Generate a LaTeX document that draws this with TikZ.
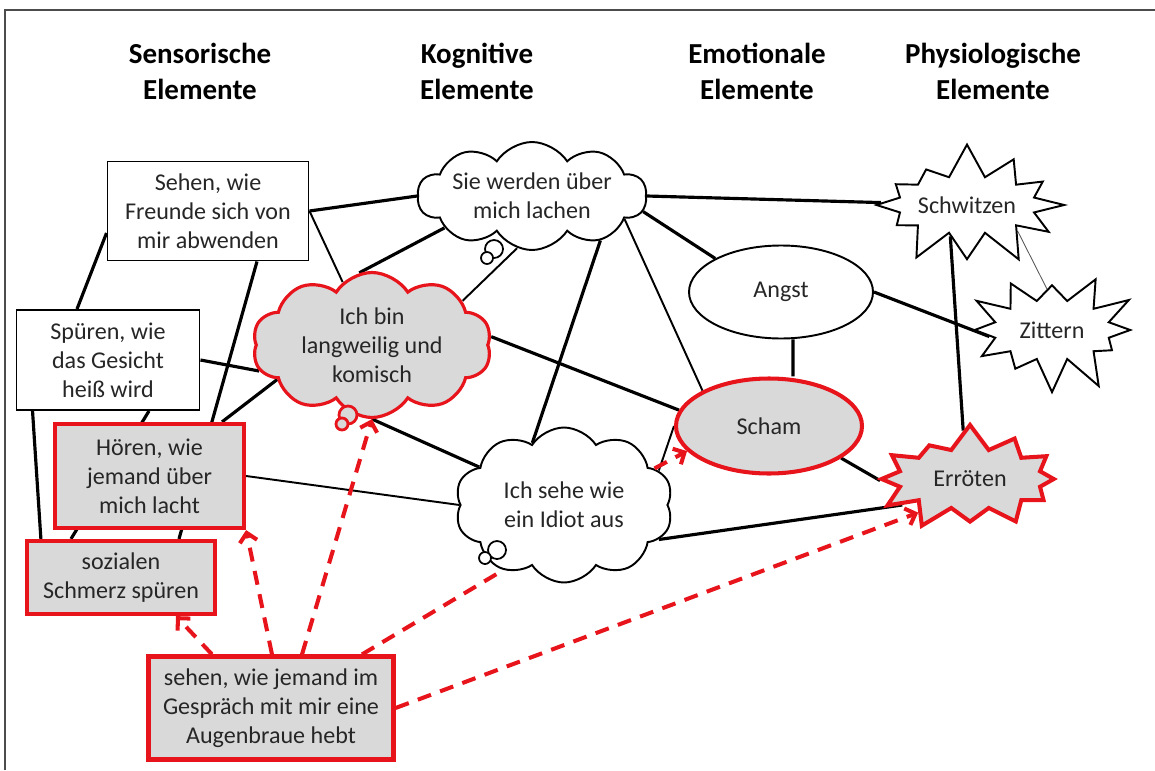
\documentclass[tikz,border=0pt]{standalone}
\usepackage{fontspec}
\setmainfont{Carlito}
\usetikzlibrary{arrows.meta, shapes.geometric, shapes.symbols, backgrounds}
\definecolor{hot}{HTML}{E8141C}
\definecolor{shade}{HTML}{D9D9D9}
\definecolor{ink}{HTML}{262626}
\newcommand{\bodyfont}{\fontsize{13.7}{16.5}\selectfont}
\newcommand{\headfont}{\fontsize{16.5}{20.5}\selectfont\bfseries}

\begin{document}
\begin{tikzpicture}[
  head/.style={font=\headfont, align=center, text=black},
  sbox/.style={rectangle, draw, line width=1.1pt, fill=white, align=center,
               font=\bodyfont, text=ink, inner sep=1pt},
  hotbox/.style={sbox, draw=hot, line width=2.4pt, fill=shade},
  thought/.style={cloud, cloud puffs=10, cloud puff arc=115, cloud ignores aspect,
                  draw, line width=1.1pt, fill=white, align=center,
                  font=\bodyfont, text=ink, inner sep=0pt},
  hotthought/.style={thought, draw=hot, line width=1.8pt, fill=shade},
  bubble/.style={circle, draw, line width=1pt, fill=white, inner sep=0pt},
  hotbubble/.style={bubble, draw=hot, line width=1.6pt, fill=shade},
  mood/.style={ellipse, draw, line width=1.1pt, fill=white, font=\bodyfont,
               text=ink, inner sep=0pt},
  hotmood/.style={mood, draw=hot, line width=2.3pt, fill=shade},
  burst/.style={starburst, starburst points=12, starburst point height=0.7cm,
                draw, line width=1.1pt, fill=white, font=\bodyfont, text=ink,
                inner sep=0pt},
  hotburst/.style={burst, draw=hot, line width=2.3pt, fill=shade},
  link/.style={line width=1.8pt},
  thinlink/.style={line width=1.1pt},
  trigger/.style={hot, line width=2.3pt, dash pattern=on 8pt off 5.5pt},
  tip/.style={-{Straight Barb[length=5pt, width=10pt]}},
]
\useasboundingbox (0,0) rectangle (23.1,15.4);
\draw[line width=0.85pt, gray!60!black] (0.1,0) -- (0.1,15.2) -- (23.1,15.2);

% column heads
\node[head] (hsens) at (4.00, 13.98) {Sensorische\\Elemente};
\node[head] (hkog)  at (9.54, 13.98) {Kognitive\\Elemente};
\node[head] (hemo)  at (15.14, 13.98) {Emotionale\\Elemente};
\node[head] (hphys) at (19.86, 13.98) {Physiologische\\Elemente};

% sensory elements
\node[sbox, minimum width=4.02cm, minimum height=1.98cm] (sehenFr) at (4.16, 11.18)
  {Sehen, wie\\Freunde sich von\\mir abwenden};
\node[sbox, minimum width=3.66cm, minimum height=2.00cm] (spueren) at (2.16, 8.20)
  {Spüren, wie\\das Gesicht\\heiß wird};
\node[hotbox, minimum width=3.78cm, minimum height=2.08cm] (hoeren) at (2.99, 5.88)
  {Hören, wie\\jemand über\\mich lacht};
\node[hotbox, minimum width=3.76cm, minimum height=1.46cm] (sozial) at (2.42, 3.85)
  {sozialen\\Schmerz spüren};
\node[hotbox, minimum width=4.90cm, minimum height=2.06cm] (augen) at (5.42, 1.24)
  {sehen, wie jemand im\\Gespräch mit mir eine\\Augenbraue hebt};

% cognitive elements
\node[thought, minimum width=4.58cm, minimum height=2.16cm] (lachen) at (10.64, 11.48)
  {Sie werden über\\mich lachen};
\node[hotthought, minimum width=4.78cm, minimum height=2.90cm] (langw) at (7.44, 8.50)
  {Ich bin\\langweilig und\\komisch};
\node[thought, minimum width=4.36cm, minimum height=3.10cm] (idiot) at (11.28, 5.30)
  {Ich sehe wie\\ein Idiot aus};
\node[bubble, minimum size=0.36cm] (lachenB1) at (9.88, 10.42) {};
\node[bubble, minimum size=0.24cm] (lachenB2) at (9.74, 10.24) {};
\node[hotbubble, minimum size=0.36cm] (langwB1) at (6.96, 7.10) {};
\node[hotbubble, minimum size=0.24cm] (langwB2) at (6.84, 6.92) {};
\node[bubble, minimum size=0.36cm] (idiotB1) at (9.94, 4.40) {};
\node[bubble, minimum size=0.24cm] (idiotB2) at (9.70, 4.24) {};

% emotional elements
\node[mood, minimum width=3.68cm, minimum height=1.86cm] (angst) at (15.62, 9.56) {Angst};
\node[hotmood, minimum width=3.72cm, minimum height=1.90cm] (scham) at (15.38, 6.88) {Scham};

% physiological elements
\node[burst, random starburst=7, minimum width=3.75cm, minimum height=2.55cm] (schwitz)
  at (19.34, 11.30) {Schwitzen};
\node[burst, random starburst=19, minimum width=3.75cm, minimum height=2.60cm] (zittern)
  at (21.04, 8.80) {Zittern};
\node[hotburst, random starburst=31, minimum width=4.30cm, minimum height=2.60cm] (erroet)
  at (19.40, 5.82) {Erröten};

\begin{scope}[on background layer]
\draw[link] (sehenFr.east) -- (lachen.west);
\draw[thinlink] (sehenFr.east) -- (langw);
\draw[link] ([yshift=-0.44cm]sehenFr.west) -- ([xshift=-0.62cm]spueren.north);
\draw[link] ([xshift=0.98cm]sehenFr.south) -- ([xshift=1.16cm]sozial.north);
\draw[link] (spueren.east) -- (langw.193);
\draw[link] ([xshift=0.34cm]spueren.south west) -- ([xshift=0.32cm]sozial.north west);
\draw[link] ([xshift=0.82cm]spueren.south) -- ([xshift=-1.0cm]sozial.north);
\draw[link] ([xshift=1.45cm]hoeren.north) -- (langw.200);
\draw[thinlink] (hoeren.east) -- (idiot.west);
\draw[link] (langw.south) -- (idiot);
\draw[link] (lachen.200) -- (langw.100);
\draw[thinlink] (lachen.254) -- (langw.26);
\draw[link] (lachen.east) -- (schwitz);
\draw[link] (lachen.352) -- (angst.153);
\draw[thinlink] (lachen.346) -- (scham.152);
\draw[link] (lachen.327) -- (idiot.117);
\draw[link] (langw.4) -- (scham.170);
\draw[thinlink] (idiot.20) -- (scham.west);
\draw[link] (idiot.340) -- (erroet.201);
\draw[link] ([xshift=0.24cm]angst.south) -- ([xshift=0.48cm]scham.north);
\draw[link] (angst.east) -- (zittern.186);
\draw[link] (schwitz.242) -- (erroet.98);
\draw[line width=0.5pt, gray!70!black] (schwitz.333) -- (zittern.97);
\draw[link] (scham.336) -- (erroet.181);
\end{scope}

% triggering situation
\draw[trigger, tip] ([xshift=-1.18cm]augen.north) -- ([xshift=1.1cm]sozial.south);
\draw[trigger, tip] ([xshift=0.02cm]augen.north) -- (hoeren.south east);
\draw[trigger, tip] ([xshift=0.62cm]augen.north) -- (langw.south);
\draw[trigger] ([xshift=1.82cm]augen.north) -- (idiot.227);
\draw[trigger, tip] (augen.east) -- (erroet.213);
\draw[trigger, tip] (idiot.22) -- (scham.197);

\end{tikzpicture}
\end{document}
